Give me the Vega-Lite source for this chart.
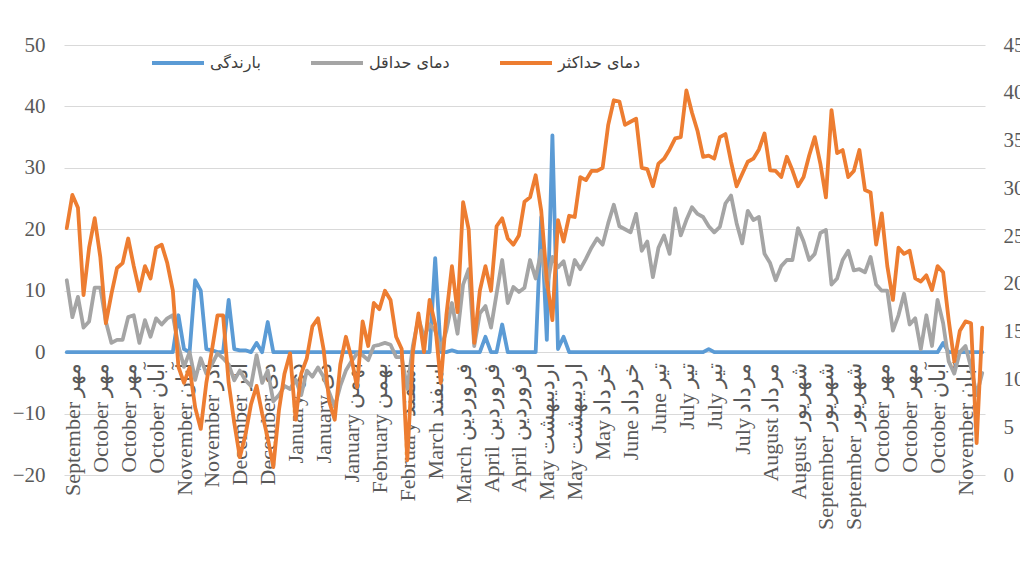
{
  "$schema": "https://vega.github.io/schema/vega-lite/v6.json",
  "width": 921,
  "height": 430,
  "autosize": "none",
  "padding": {"left": 64, "top": 45, "right": 35, "bottom": 88},
  "background": "white",
  "config": {"view": {"stroke": null}},
  "layer": [
    {
      "data": {"values": [
        {"i":0,"p":0,"tn":11.7,"tx":20.2},{"i":1,"p":0,"tn":5.7,"tx":25.6},{"i":2,"p":0,"tn":9,"tx":23.5},{"i":3,"p":0,"tn":4,"tx":9.3},{"i":4,"p":0,"tn":5,"tx":17},
        {"i":5,"p":0,"tn":10.5,"tx":21.8},{"i":6,"p":0,"tn":10.5,"tx":15.5},{"i":7,"p":0,"tn":5,"tx":4.7},{"i":8,"p":0,"tn":1.5,"tx":9.5},{"i":9,"p":0,"tn":2,"tx":13.7},
        {"i":10,"p":0,"tn":2,"tx":14.5},{"i":11,"p":0,"tn":5.7,"tx":18.5},{"i":12,"p":0,"tn":6,"tx":14},{"i":13,"p":0,"tn":1.5,"tx":10},{"i":14,"p":0,"tn":5.2,"tx":14},
        {"i":15,"p":0,"tn":2.5,"tx":12},{"i":16,"p":0,"tn":5.5,"tx":17},{"i":17,"p":0,"tn":4.5,"tx":17.5},{"i":18,"p":0,"tn":5.5,"tx":14.5},{"i":19,"p":0,"tn":6,"tx":10},
        {"i":20,"p":6,"tn":1,"tx":-2.4},{"i":21,"p":0.5,"tn":-2.4,"tx":-5},{"i":22,"p":0,"tn":0,"tx":-2.5},{"i":23,"p":11.7,"tn":-4.5,"tx":-9},{"i":24,"p":10,"tn":-1,"tx":-12.5},
        {"i":25,"p":0.5,"tn":-3.5,"tx":-5},{"i":26,"p":0.3,"tn":-2,"tx":0.3},{"i":27,"p":0,"tn":-0.2,"tx":6},{"i":28,"p":0,"tn":-1,"tx":6},{"i":29,"p":8.5,"tn":-2,"tx":-5},
        {"i":30,"p":0.5,"tn":-4.6,"tx":-11.5},{"i":31,"p":0.3,"tn":-3,"tx":-17.1},{"i":32,"p":0.3,"tn":-4.6,"tx":-13.5},{"i":33,"p":0,"tn":-5.5,"tx":-8.5},{"i":34,"p":1.5,"tn":-0.5,"tx":-5.5},
        {"i":35,"p":0,"tn":-5,"tx":-10},{"i":36,"p":4.9,"tn":-3,"tx":-14},{"i":37,"p":0,"tn":-8,"tx":-18.7},{"i":38,"p":0,"tn":-7,"tx":-9.5},{"i":39,"p":0,"tn":-5.5,"tx":-3.5},
        {"i":40,"p":0,"tn":-6,"tx":-0.2},{"i":41,"p":0,"tn":-4.5,"tx":-11},{"i":42,"p":0,"tn":-7,"tx":-3.5},{"i":43,"p":0,"tn":-3,"tx":-1},{"i":44,"p":0,"tn":-4,"tx":4.2},
        {"i":45,"p":0,"tn":-2.5,"tx":5.5},{"i":46,"p":0,"tn":-4,"tx":0.5},{"i":47,"p":0,"tn":-6.5,"tx":-8},{"i":48,"p":0,"tn":-8.9,"tx":-11},{"i":49,"p":0,"tn":-5.5,"tx":-2},
        {"i":50,"p":0,"tn":-3,"tx":2.5},{"i":51,"p":0,"tn":-1.5,"tx":-1},{"i":52,"p":0,"tn":-0.2,"tx":-5.7},{"i":53,"p":0,"tn":-0.5,"tx":5},{"i":54,"p":0,"tn":-1.3,"tx":1},
        {"i":55,"p":0,"tn":1,"tx":8},{"i":56,"p":0,"tn":1.2,"tx":7},{"i":57,"p":0,"tn":1.5,"tx":10},{"i":58,"p":0,"tn":1.2,"tx":8.5},{"i":59,"p":0,"tn":-0.8,"tx":2.5},
        {"i":60,"p":0,"tn":-0.8,"tx":0.5},{"i":61,"p":0,"tn":-6,"tx":-17.6},{"i":62,"p":0,"tn":1,"tx":0},{"i":63,"p":0,"tn":5.5,"tx":6.3},{"i":64,"p":0,"tn":2.5,"tx":0},
        {"i":65,"p":0,"tn":4.5,"tx":8.5},{"i":66,"p":15.3,"tn":3.5,"tx":4.5},{"i":67,"p":0,"tn":0.5,"tx":-5},{"i":68,"p":0,"tn":3.5,"tx":6},{"i":69,"p":0.3,"tn":8,"tx":14},
        {"i":70,"p":0,"tn":3,"tx":6.5},{"i":71,"p":0,"tn":11,"tx":24.4},{"i":72,"p":0,"tn":13.5,"tx":20},{"i":73,"p":0,"tn":1,"tx":1.5},{"i":74,"p":0,"tn":6.3,"tx":10},
        {"i":75,"p":2.5,"tn":7.5,"tx":14},{"i":76,"p":0,"tn":4,"tx":10},{"i":77,"p":0,"tn":9.5,"tx":20.5},{"i":78,"p":4.5,"tn":15,"tx":21.8},{"i":79,"p":0,"tn":8,"tx":18.5},
        {"i":80,"p":0,"tn":10.6,"tx":17.5},{"i":81,"p":0,"tn":9.8,"tx":19},{"i":82,"p":0,"tn":10.5,"tx":24.5},{"i":83,"p":0,"tn":15,"tx":25.2},{"i":84,"p":0,"tn":12,"tx":28.8},
        {"i":85,"p":22,"tn":16.5,"tx":23},{"i":86,"p":2,"tn":10.6,"tx":11.7},{"i":87,"p":35.3,"tn":15.5,"tx":5.2},{"i":88,"p":0.5,"tn":13.8,"tx":21.5},{"i":89,"p":2.5,"tn":14.8,"tx":18},
        {"i":90,"p":0,"tn":11,"tx":22.2},{"i":91,"p":0,"tn":15,"tx":22},{"i":92,"p":0,"tn":13.5,"tx":28.5},{"i":93,"p":0,"tn":15.2,"tx":28},{"i":94,"p":0,"tn":17,"tx":29.5},
        {"i":95,"p":0,"tn":18.5,"tx":29.5},{"i":96,"p":0,"tn":17.5,"tx":30},{"i":97,"p":0,"tn":21,"tx":37},{"i":98,"p":0,"tn":24,"tx":41},{"i":99,"p":0,"tn":20.5,"tx":40.8},
        {"i":100,"p":0,"tn":20,"tx":37},{"i":101,"p":0,"tn":19.5,"tx":37.5},{"i":102,"p":0,"tn":22.5,"tx":38},{"i":103,"p":0,"tn":16.5,"tx":30},{"i":104,"p":0,"tn":18,"tx":29.8},
        {"i":105,"p":0,"tn":12.2,"tx":27},{"i":106,"p":0,"tn":17,"tx":30.7},{"i":107,"p":0,"tn":19,"tx":31.5},{"i":108,"p":0,"tn":16,"tx":33},{"i":109,"p":0,"tn":23.4,"tx":34.8},
        {"i":110,"p":0,"tn":19,"tx":35},{"i":111,"p":0,"tn":21.5,"tx":42.6},{"i":112,"p":0,"tn":23.6,"tx":39},{"i":113,"p":0,"tn":22.5,"tx":36},{"i":114,"p":0,"tn":22,"tx":31.8},
        {"i":115,"p":0.5,"tn":20.5,"tx":32},{"i":116,"p":0,"tn":19.5,"tx":31.5},{"i":117,"p":0,"tn":20.4,"tx":35},{"i":118,"p":0,"tn":24.2,"tx":35.5},{"i":119,"p":0,"tn":25.5,"tx":31},
        {"i":120,"p":0,"tn":21,"tx":27},{"i":121,"p":0,"tn":17.7,"tx":29},{"i":122,"p":0,"tn":23,"tx":31},{"i":123,"p":0,"tn":21.5,"tx":31.5},{"i":124,"p":0,"tn":22,"tx":33},
        {"i":125,"p":0,"tn":16,"tx":35.6},{"i":126,"p":0,"tn":14.5,"tx":29.6},{"i":127,"p":0,"tn":11.7,"tx":29.5},{"i":128,"p":0,"tn":14,"tx":28.5},{"i":129,"p":0,"tn":15,"tx":31.8},
        {"i":130,"p":0,"tn":15,"tx":29.6},{"i":131,"p":0,"tn":20.2,"tx":27},{"i":132,"p":0,"tn":18,"tx":28.5},{"i":133,"p":0,"tn":15,"tx":32},{"i":134,"p":0,"tn":16,"tx":35},
        {"i":135,"p":0,"tn":19.4,"tx":30.7},{"i":136,"p":0,"tn":19.9,"tx":25.2},{"i":137,"p":0,"tn":11,"tx":39.4},{"i":138,"p":0,"tn":12,"tx":32.4},{"i":139,"p":0,"tn":15,"tx":32.9},
        {"i":140,"p":0,"tn":16.5,"tx":28.5},{"i":141,"p":0,"tn":13.3,"tx":29.5},{"i":142,"p":0,"tn":13.5,"tx":32.9},{"i":143,"p":0,"tn":13,"tx":26.4},{"i":144,"p":0,"tn":15.5,"tx":26},
        {"i":145,"p":0,"tn":11,"tx":17.5},{"i":146,"p":0,"tn":10,"tx":22.6},{"i":147,"p":0,"tn":10,"tx":14},{"i":148,"p":0,"tn":3.5,"tx":8.5},{"i":149,"p":0,"tn":6,"tx":17},
        {"i":150,"p":0,"tn":9.5,"tx":16},{"i":151,"p":0,"tn":4.5,"tx":16.5},{"i":152,"p":0,"tn":5.5,"tx":12},{"i":153,"p":0,"tn":0.5,"tx":11.5},{"i":154,"p":0,"tn":6,"tx":12.5},
        {"i":155,"p":0,"tn":1,"tx":10.1},{"i":156,"p":0,"tn":8.5,"tx":14},{"i":157,"p":1.5,"tn":4.7,"tx":13},{"i":158,"p":0,"tn":-1.5,"tx":5.2},{"i":159,"p":0,"tn":-3.5,"tx":-1.5},
        {"i":160,"p":0,"tn":0,"tx":3.5},{"i":161,"p":0,"tn":1,"tx":5},{"i":162,"p":0,"tn":-2.5,"tx":4.7},{"i":163,"p":0,"tn":-7,"tx":-14.8},{"i":164,"p":0,"tn":-3.4,"tx":4}
      ]},
      "transform": [{"fold": ["p", "tn", "tx"], "as": ["s", "v"]}],
      "mark": {"type": "line", "strokeWidth": 3.8, "strokeJoin": "round", "strokeCap": "round"},
      "encoding": {
        "x": {
          "field": "i", "type": "quantitative",
          "scale": {"domain": [-0.5, 164.5], "nice": false, "zero": false},
          "axis": {
            "orient": "bottom", "offset": -122, "title": null,
            "values": [1,6,11,16,21,26,31,36,41,46,51,56,61,66,71,76,81,86,91,96,101,106,111,116,121,126,131,136,141,146,151,156,161],
            "labelExpr": "['September مهر','October مهر','October مهر','October آبان','November آبان','November آذر','December آذر','December دی','January دی','January دی','January بهمن','February بهمن','February اسفند','March اسفند','March فروردین','April فروردین','April فروردین','May اردیبهشت','May اردیبهشت','May خرداد','June خرداد','June تیر','July تیر','July تیر','July مرداد','August مرداد','August شهریور','September شهریور','September شهریور','October مهر','October مهر','October آبان','November آبان'][(datum.value - 1) / 5]",
            "labelAngle": -90, "labelAlign": "right", "labelBaseline": "middle",
            "labelPadding": 9, "labelOverlap": false, "labelFlush": false, "labelBound": false,
            "labelFont": "Liberation Serif", "labelFontSize": 22, "labelColor": "#595959",
            "domain": false, "ticks": false, "grid": false
          }
        },
        "y": {
          "field": "v", "type": "quantitative",
          "scale": {"domain": [-20, 50], "nice": false, "zero": false},
          "axis": {
            "title": null, "values": [-20,-10,0,10,20,30,40,50],
            "grid": true, "gridColor": "#d9d9d9", "gridWidth": 1,
            "domain": false, "ticks": false,
            "labelFont": "Liberation Serif", "labelFontSize": 21, "labelColor": "#595959", "labelPadding": 19
          }
        },
        "color": {
          "field": "s", "type": "nominal",
          "scale": {"domain": ["p", "tn", "tx"], "range": ["#5b9bd5", "#a5a5a5", "#ed7d31"]},
          "legend": {
            "title": null, "orient": "none", "legendX": 86, "legendY": -10, "direction": "horizontal",
            "labelExpr": "{'p': 'بارندگی', 'tn': 'دمای حداقل', 'tx': 'دمای حداکثر'}[datum.label]",
            "symbolType": "stroke", "symbolSize": 2704, "symbolStrokeWidth": 4,
            "labelFont": "DejaVu Sans", "labelFontSize": 16, "labelColor": "#404040",
            "labelOffset": 4, "columnPadding": 42
          }
        }
      }
    },
    {
      "data": {"values": [{"r": 0}, {"r": 45}]},
      "mark": {"type": "point", "opacity": 0},
      "encoding": {
        "y": {
          "field": "r", "type": "quantitative",
          "scale": {"domain": [0, 45], "nice": false, "zero": false},
          "axis": {
            "orient": "right", "title": null, "values": [0,5,10,15,20,25,30,35,40,45],
            "grid": false, "domain": false, "ticks": false,
            "labelFont": "Liberation Serif", "labelFontSize": 21, "labelColor": "#595959", "labelPadding": 18
          }
        }
      }
    }
  ],
  "resolve": {"scale": {"y": "independent"}}
}
